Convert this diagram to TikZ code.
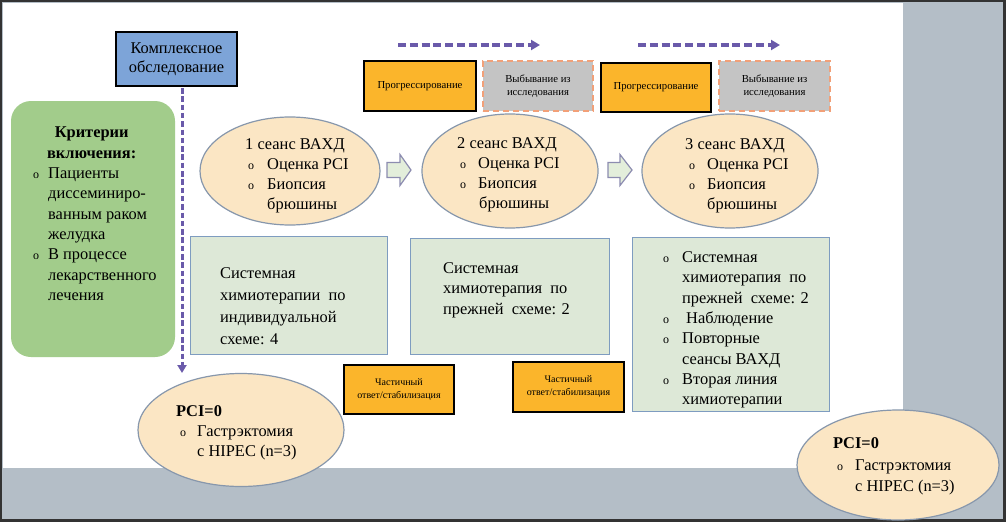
\documentclass[tikz,border=0pt]{standalone}
\usepackage{fontspec}
\setmainfont{Liberation Serif}
\usetikzlibrary{shapes.geometric,arrows.meta}
\definecolor{bggray}{HTML}{B4BEC7}
\definecolor{kblue}{HTML}{7DA4D8}
\definecolor{critgreen}{HTML}{A2CC8B}
\definecolor{ellfill}{HTML}{FBE6C4}
\definecolor{ellline}{HTML}{8797AC}
\definecolor{boxfill}{HTML}{DDE8D7}
\definecolor{boxline}{HTML}{7E9CC0}
\definecolor{orangef}{HTML}{FBB52B}
\definecolor{grayf}{HTML}{C4C4C4}
\definecolor{dashor}{HTML}{F2A078}
\definecolor{dpurple}{HTML}{6A5AAA}
\definecolor{arrfill}{HTML}{E3EEDB}
\definecolor{arrline}{HTML}{8C8CB0}
\newcommand{\bul}[1]{\makebox[#1pt][l]{\fontsize{12}{12}\selectfont o}}
\begin{document}
\begin{tikzpicture}[x=1pt,y=-1pt,
  main/.style={font=\fontsize{16.4}{20.3}\selectfont},
  txt/.style={main, inner sep=0pt, anchor=north west, align=left, text=black},
  kbox/.style={draw=black, line width=2.2pt, fill=kblue, minimum width=121pt, minimum height=54pt, inner sep=0pt, align=center, font=\fontsize{16.4}{19}\selectfont},
  critbox/.style={fill=critgreen, rounded corners=20pt, minimum width=164pt, minimum height=256pt},
  ellbox/.style={ellipse, draw=ellline, line width=1.2pt, fill=ellfill, inner sep=0pt},
  grbox/.style={draw=boxline, line width=1pt, fill=boxfill, inner sep=0pt},
  obox/.style={draw=black, line width=2pt, fill=orangef, inner sep=0pt, align=center, font=\fontsize{10.7}{13}\selectfont},
  gbox/.style={draw=dashor, line width=2pt, dash pattern=on 6pt off 4pt, fill=grayf, inner sep=0pt, align=center, font=\fontsize{10.7}{13.5}\selectfont},
  hdash/.style={draw=dpurple, line width=3.2pt, dash pattern=on 8pt off 3.8pt, -{Triangle[length=9pt,width=10pt]}},
  vdash/.style={draw=dpurple, line width=3pt, dash pattern=on 5.5pt off 2.8pt, -{Triangle[length=8pt,width=9pt]}},
  barrow/.style={draw=arrline, line width=1.2pt, fill=arrfill, line join=miter}
]
\useasboundingbox (0,0) rectangle (1006,522);
% background
\fill[black!80] (0,0) rectangle (1006,522);
\fill[bggray] (2,2) rectangle (1003,519);
\fill[white] (3,3) rectangle (903,468);

% top dashed arrows
\coordinate (ta1) at (398,45); \coordinate (tb1) at (540,45);
\coordinate (ta2) at (638,45); \coordinate (tb2) at (780,45);
\draw[hdash] (ta1) -- (tb1);
\draw[hdash] (ta2) -- (tb2);

% Комплексное обследование
\node[kbox] (kompl) at (176.5,59) {Комплексное\\обследование};

% criteria box
\node[critbox] (crit) at (93,229) {};
\node[txt] (critt) at (33,127) {\makebox[117pt][c]{\bfseries Критерии}\\
\makebox[117pt][c]{\bfseries включения:}\\
\bul{15}Пациенты\\
\hspace*{15pt}диссеминиро-\\
\hspace*{15pt}ванным раком\\
\hspace*{15pt}желудка\\
\bul{15}В процессе\\
\hspace*{15pt}лекарственного\\
\hspace*{15pt}лечения};

% vertical dashed arrow
\coordinate (vtop) at (182,88);
\coordinate (vbot) at (182,373);
\draw[vdash] (vtop) -- (vbot);

% top boxes
\node[obox, minimum width=112pt, minimum height=50pt] (p1) at (420,86) {Прогрессирование};
\node[gbox, minimum width=110pt, minimum height=50pt] (w1) at (538,86) {Выбывание из\\исследования};
\node[obox, minimum width=110pt, minimum height=49pt] (p2) at (656,87.5) {Прогрессирование};
\node[gbox, minimum width=111pt, minimum height=50pt] (w2) at (774.5,86) {Выбывание из\\исследования};

% ellipses
\node[ellbox, minimum width=180pt, minimum height=108pt] (e1) at (290,171) {};
\node[ellbox, minimum width=176pt, minimum height=114pt] (e2) at (510,171) {};
\node[ellbox, minimum width=176pt, minimum height=114pt] (e3) at (730,171) {};
\node[txt] (e1t) at (245,138) {1 сеанс ВАХД\\
\hspace*{3pt}\bul{19}Оценка PCI\\
\hspace*{3pt}\bul{19}Биопсия\\
\hspace*{22pt}брюшины};
\node[txt] (e2t) at (457,137) {2 сеанс ВАХД\\
\hspace*{3pt}\bul{18}Оценка PCI\\
\hspace*{3pt}\bul{18}Биопсия\\
\hspace*{22pt}брюшины};
\node[txt] (e3t) at (685,138) {3 сеанс ВАХД\\
\hspace*{4pt}\bul{18}Оценка PCI\\
\hspace*{4pt}\bul{18}Биопсия\\
\hspace*{22pt}брюшины};

% block arrows
\begin{scope}[shift={(387,170)}]
\draw[barrow] (0,-7.5) -- (13,-7.5) -- (13,-15.5) -- (24,0) -- (13,15.5) -- (13,7.5) -- (0,7.5) -- cycle;
\end{scope}
\begin{scope}[shift={(608,170)}]
\draw[barrow] (0,-7.5) -- (12,-7.5) -- (12,-15.5) -- (24,0) -- (12,15.5) -- (12,7.5) -- (0,7.5) -- cycle;
\end{scope}

% green rect boxes
\node[grbox, minimum width=197pt, minimum height=118pt] (s1) at (288.5,295) {};
\node[grbox, minimum width=199pt, minimum height=116pt] (s2) at (509.5,296) {};
\node[grbox, minimum width=197pt, minimum height=174pt] (s3) at (730.5,324) {};
\node[txt, font=\fontsize{16.4}{22}\selectfont] (s1t) at (220,267.5) {Системная\\
химиотерапии~~по\\
индивидуальной\\
схеме: 4};
\node[txt] (s2t) at (443,262.5) {Системная\\
химиотерапия~~по\\
прежней~~схеме: 2};
\node[txt] (s3t) at (663,251.5) {\bul{19}Системная\\
\hspace*{19pt}химиотерапия~~по\\
\hspace*{19pt}прежней~~схеме: 2\\
\bul{19}\hspace*{4pt}Наблюдение\\
\bul{19}Повторные\\
\hspace*{19pt}сеансы ВАХД\\
\bul{19}Вторая линия\\
\hspace*{19pt}химиотерапии};

% partial response boxes
\node[obox, minimum width=110pt, minimum height=49pt, font=\fontsize{10}{13}\selectfont] (c1) at (399,389.5) {Частичный\\ответ/стабилизация};
\node[obox, minimum width=111pt, minimum height=50pt, font=\fontsize{10}{13}\selectfont] (c2) at (568.5,387) {Частичный\\ответ/стабилизация};

% PCI=0 ellipses
\node[ellbox, minimum width=206pt, minimum height=113pt] (pci1) at (241,430) {};
\node[txt] (pci1t) at (176,405) {\textbf{PCI=0}\\
\hspace*{4pt}\bul{17}Гастрэктомия\\
\hspace*{21pt}с HIPEC (n=3)};
\node[ellbox, minimum width=202pt, minimum height=110pt] (pci2) at (898,465) {};
\node[txt, font=\fontsize{16.4}{21.5}\selectfont] (pci2t) at (833,437.5) {\textbf{PCI=0}\\
\hspace*{4pt}\bul{18}Гастрэктомия\\
\hspace*{22pt}с HIPEC (n=3)};
\end{tikzpicture}
\end{document}
